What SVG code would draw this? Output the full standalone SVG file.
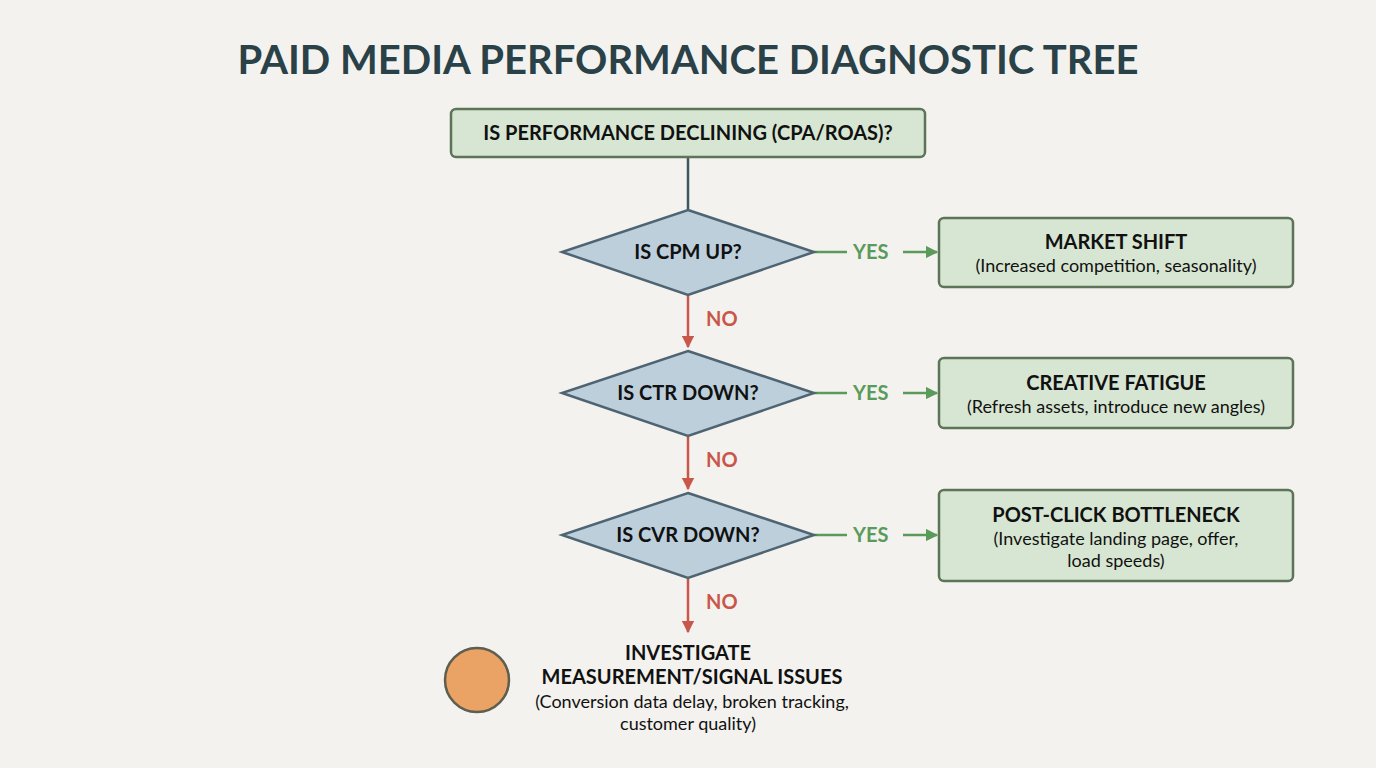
<svg xmlns="http://www.w3.org/2000/svg" width="1376" height="768" viewBox="0 0 1376 768">
<style>
.t{font-family:"Lato","Liberation Sans",sans-serif;font-weight:bold;fill:#111;text-anchor:middle}
.s{font-family:"Lato","Liberation Sans",sans-serif;fill:#111;text-anchor:middle;font-size:18px}
.box{fill:#d7e6d2;stroke:#5d7458;stroke-width:2.5}
.dia{fill:#bccfdb;stroke:#4f6472;stroke-width:2.5}
.yes{stroke:#5a9a5a;stroke-width:2.5;fill:none}
.no{stroke:#c8574a;stroke-width:2.5;fill:none}
.yl{font-family:"Lato","Liberation Sans",sans-serif;font-weight:bold;font-size:20px;fill:#5a9a5a}
.nl{font-family:"Lato","Liberation Sans",sans-serif;font-weight:bold;font-size:20px;fill:#c8574a}
</style>
<defs>
<marker id="ag" viewBox="0 0 10 10" refX="9" refY="5" markerWidth="5" markerHeight="5" orient="auto"><path d="M0,0L10,5L0,10z" fill="#5a9a5a"/></marker>
<marker id="ar" viewBox="0 0 10 10" refX="9" refY="5" markerWidth="5" markerHeight="5" orient="auto"><path d="M0,0L10,5L0,10z" fill="#c8574a"/></marker>
</defs>
<rect width="1376" height="768" fill="#f3f2ee"/>
<text x="688" y="74" class="t" style="font-size:40px;fill:#2a4148">PAID MEDIA PERFORMANCE DIAGNOSTIC TREE</text>
<g id="connectors">
<line x1="688" y1="157" x2="688" y2="210" stroke="#3f5560" stroke-width="2.5"/>
<line class="no" x1="688" y1="296" x2="688" y2="347" marker-end="url(#ar)"/>
<line class="no" x1="688" y1="437" x2="688" y2="489" marker-end="url(#ar)"/>
<line class="no" x1="688" y1="579" x2="688" y2="632" marker-end="url(#ar)"/>
<text class="nl" x="706" y="326">NO</text>
<text class="nl" x="706" y="467">NO</text>
<text class="nl" x="706" y="609">NO</text>
<line class="yes" x1="814" y1="252" x2="847" y2="252"/><line class="yes" x1="903" y1="252" x2="937" y2="252" marker-end="url(#ag)"/><text class="yl" x="853" y="259">YES</text>
<line class="yes" x1="814" y1="393" x2="847" y2="393"/><line class="yes" x1="903" y1="393" x2="937" y2="393" marker-end="url(#ag)"/><text class="yl" x="853" y="400">YES</text>
<line class="yes" x1="814" y1="535" x2="847" y2="535"/><line class="yes" x1="903" y1="535" x2="937" y2="535" marker-end="url(#ag)"/><text class="yl" x="853" y="542">YES</text>
</g>
<g id="start"><rect class="box" x="451" y="109" width="474" height="48" rx="5"/><text class="t" x="688" y="140" font-size="20">IS PERFORMANCE DECLINING (CPA/ROAS)?</text></g>
<g id="d1"><polygon class="dia" points="688,210 814,252 688,295 562,252"/><text class="t" x="688" y="259" font-size="20">IS CPM UP?</text></g>
<g id="d2"><polygon class="dia" points="688,351 814,393 688,436 562,393"/><text class="t" x="688" y="400" font-size="20">IS CTR DOWN?</text></g>
<g id="d3"><polygon class="dia" points="688,493 814,535 688,578 562,535"/><text class="t" x="688" y="542" font-size="20">IS CVR DOWN?</text></g>
<g id="r1"><rect class="box" x="939" y="218" width="354" height="69" rx="5"/><text class="t" x="1116" y="249" font-size="20">MARKET SHIFT</text><text class="s" x="1116" y="272">(Increased competition, seasonality)</text></g>
<g id="r2"><rect class="box" x="939" y="358" width="354" height="70" rx="5"/><text class="t" x="1116" y="390" font-size="20">CREATIVE FATIGUE</text><text class="s" x="1116" y="413">(Refresh assets, introduce new angles)</text></g>
<g id="r3"><rect class="box" x="939" y="490" width="354" height="91" rx="5"/><text class="t" x="1116" y="522" font-size="20">POST-CLICK BOTTLENECK</text><text class="s" x="1116" y="545">(Investigate landing page, offer,</text><text class="s" x="1116" y="567">load speeds)</text></g>
<g id="end"><circle cx="477" cy="680" r="32" fill="#eba265" stroke="#5e5e4e" stroke-width="2.5"/>
<text class="t" x="688" y="660" font-size="20">INVESTIGATE</text><text class="t" x="692" y="684" font-size="20">MEASUREMENT/SIGNAL ISSUES</text>
<text class="s" x="692" y="708">(Conversion data delay, broken tracking,</text><text class="s" x="688" y="730">customer quality)</text></g>
</svg>
